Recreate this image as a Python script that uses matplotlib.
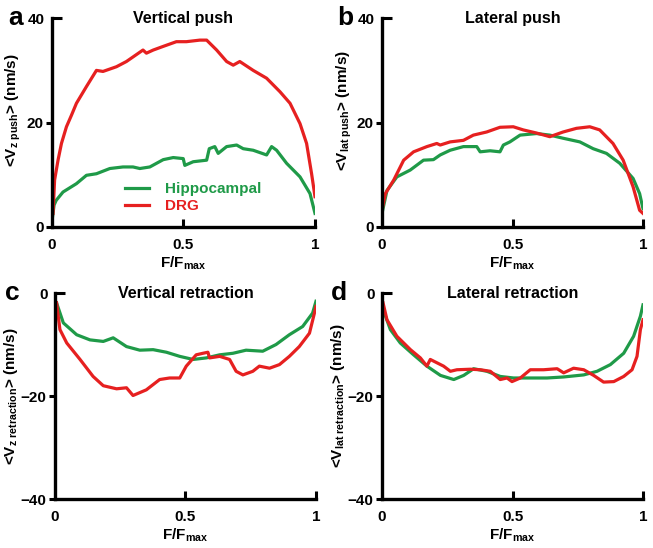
import matplotlib
matplotlib.use("Agg")
import matplotlib.pyplot as plt

plt.rcParams['font.family'] = ['Liberation Sans', 'DejaVu Sans']
plt.rcParams['font.weight'] = 'bold'
plt.rcParams['axes.labelweight'] = 'bold'
plt.rcParams['mathtext.fontset'] = 'custom'
plt.rcParams['mathtext.rm'] = 'Liberation Sans:bold'
plt.rcParams['mathtext.bf'] = 'Liberation Sans:bold'
plt.rcParams['mathtext.it'] = 'Liberation Sans:bold'
plt.rcParams['mathtext.default'] = 'bf'

GREEN = '#1f9a48'
RED = '#e62020'

# panel a - vertical push
a_hip_x = [0.002, 0.008, 0.016, 0.042, 0.093, 0.131, 0.169, 0.22, 0.27, 0.308, 0.334, 0.372, 0.423, 0.461,
           0.499, 0.505, 0.537, 0.588, 0.598, 0.619, 0.632, 0.664, 0.702, 0.727, 0.765, 0.816,
           0.835, 0.854, 0.892, 0.943, 0.981, 1.0]
a_hip_y = [1.9, 4.2, 5.1, 6.7, 8.3, 9.9, 10.2, 11.2, 11.5, 11.5, 11.2, 11.5, 12.9, 13.3,
           13.1, 11.8, 12.5, 12.8, 15.0, 15.4, 14.1, 15.4, 15.7, 15.0, 14.7, 13.8,
           15.4, 14.7, 12.2, 9.6, 6.4, 2.6]
a_drg_x = [0.004, 0.01, 0.023, 0.036, 0.055, 0.074, 0.093, 0.131, 0.169, 0.194, 0.245, 0.283, 0.346,
           0.359, 0.385, 0.423, 0.473, 0.511, 0.562, 0.588, 0.626, 0.664, 0.689, 0.714, 0.765,
           0.816, 0.867, 0.905, 0.943, 0.968, 0.987, 1.0]
a_drg_y = [2.6, 9.0, 12.8, 16.0, 19.2, 21.4, 23.7, 26.9, 30.0, 29.8, 30.7, 31.7, 33.9,
           33.3, 33.9, 34.6, 35.5, 35.5, 35.8, 35.8, 33.9, 31.7, 31.0, 31.7, 30.0,
           28.5, 25.9, 23.7, 19.8, 16.0, 10.2, 5.8]

# panel b - lateral push
b_hip_x = [0.0, 0.019, 0.057, 0.108, 0.159, 0.197, 0.223, 0.261, 0.312, 0.363, 0.376, 0.414, 0.452,
           0.465, 0.49, 0.529, 0.592, 0.643, 0.694, 0.758, 0.809, 0.86, 0.911, 0.962, 0.987, 1.0]
b_hip_y = [2.6, 7.0, 9.6, 10.9, 12.8, 12.9, 13.8, 14.7, 15.4, 15.4, 14.4, 14.6, 14.4,
           15.7, 16.3, 17.6, 17.9, 17.6, 17.0, 16.3, 15.0, 14.1, 12.2, 9.3, 6.4, 3.5]
b_drg_x = [0.0, 0.013, 0.045, 0.083, 0.121, 0.172, 0.21, 0.223, 0.261, 0.312, 0.35, 0.401, 0.452,
           0.503, 0.541, 0.592, 0.643, 0.694, 0.745, 0.796, 0.834, 0.885, 0.924, 0.962, 0.987, 1.0]
b_drg_y = [3.2, 6.4, 9.0, 12.8, 14.4, 15.4, 16.0, 15.7, 16.3, 16.6, 17.6, 18.2, 19.1,
           19.2, 18.6, 18.0, 17.3, 18.2, 18.9, 19.2, 18.6, 16.0, 12.8, 7.7, 3.2, 2.6]

# panel c - vertical retraction
c_hip_x = [0.006, 0.032, 0.083, 0.134, 0.185, 0.223, 0.274, 0.325, 0.376, 0.427, 0.478, 0.529,
           0.58, 0.631, 0.682, 0.732, 0.796, 0.847, 0.898, 0.949, 0.987, 1.0]
c_hip_y = [-1.9, -5.8, -8.1, -9.1, -9.4, -8.7, -10.4, -11.1, -11.0, -11.5, -12.3, -12.9,
           -12.6, -12.0, -11.7, -11.1, -11.3, -10.0, -8.1, -6.5, -3.9, -1.6]
c_drg_x = [0.006, 0.019, 0.045, 0.096, 0.146, 0.185, 0.236, 0.274, 0.299, 0.35, 0.401, 0.439, 0.478,
           0.503, 0.541, 0.567, 0.586, 0.592, 0.631, 0.669, 0.694, 0.72, 0.758, 0.783, 0.822,
           0.86, 0.898, 0.936, 0.975, 0.994, 1.0]
c_drg_y = [-1.9, -7.1, -9.7, -12.9, -16.2, -18.0, -18.6, -18.4, -19.9, -18.8, -16.8, -16.5, -16.5,
           -14.2, -12.0, -11.7, -11.5, -12.6, -12.3, -12.9, -15.2, -15.9, -15.2, -14.2, -14.6,
           -13.9, -12.3, -10.4, -7.8, -3.9, -2.6]

# panel d - lateral retraction
d_hip_x = [0.004, 0.032, 0.07, 0.121, 0.172, 0.224, 0.275, 0.313, 0.351, 0.402, 0.453, 0.504,
           0.568, 0.632, 0.696, 0.773, 0.824, 0.875, 0.926, 0.964, 0.99, 1.0]
d_hip_y = [-3.2, -7.1, -9.7, -12.0, -14.2, -16.0, -16.8, -16.0, -14.7, -15.2, -16.2, -16.5,
           -16.5, -16.5, -16.3, -15.9, -15.2, -13.9, -11.7, -8.4, -4.5, -2.3]
d_drg_x = [0.004, 0.019, 0.057, 0.109, 0.147, 0.172, 0.185, 0.236, 0.262, 0.287, 0.338, 0.377, 0.415,
           0.453, 0.479, 0.498, 0.53, 0.568, 0.619, 0.671, 0.696, 0.734, 0.773, 0.811, 0.849,
           0.888, 0.926, 0.958, 0.977, 0.99, 1.0]
d_drg_y = [-1.9, -5.2, -8.4, -11.0, -12.6, -14.2, -12.9, -14.2, -15.2, -14.9, -14.8, -14.9, -15.2,
           -16.8, -16.5, -17.2, -16.5, -14.9, -14.9, -14.7, -15.5, -14.6, -14.9, -16.0, -17.3,
           -17.2, -16.2, -14.9, -12.3, -7.1, -5.2]

x_ticks = [0.5, 1]
x_ticklabels = ['0.5', '1']

fig = plt.figure(figsize=(6.53, 5.48), dpi=100)

panels = [
    # letter, title, ylabel, rect, ylim, lower ticks, top tick, ylabel coords, data
    ('a', 'Vertical push', r'<V$_{z\ push}$> (nm/s)', [0.0796, 0.5858, 0.4028, 0.381],
     (0, 40), [0, 20], 40, (-0.145, 0.56), (a_hip_x, a_hip_y, a_drg_x, a_drg_y)),
    ('b', 'Lateral push', r'<V$_{lat\ push}$> (nm/s)', [0.585, 0.5858, 0.3997, 0.381],
     (0, 40), [0, 20], 40, (-0.145, 0.56), (b_hip_x, b_hip_y, b_drg_x, b_drg_y)),
    ('c', 'Vertical retraction', r'<V$_{z\ retraction}$> (nm/s)', [0.0842, 0.0894, 0.3997, 0.3759],
     (-40, 0), [-40, -20], 0, (-0.17, 0.5), (c_hip_x, c_hip_y, c_drg_x, c_drg_y)),
    ('d', 'Lateral retraction', r'<V$_{lat\ retraction}$> (nm/s)', [0.585, 0.0894, 0.3997, 0.3759],
     (-40, 0), [-40, -20], 0, (-0.17, 0.5), (d_hip_x, d_hip_y, d_drg_x, d_drg_y)),
]

for letter, title, ylabel, rect, ylim, yt, ytop, lab_xy, data in panels:
    ax = fig.add_axes(rect)
    hx, hy, dx, dy = data
    ax.plot(hx, hy, color=GREEN, lw=2.3, label='Hippocampal')
    ax.plot(dx, dy, color=RED, lw=2.3, label='DRG')
    ax.set_xlim(0, 1)
    ax.set_ylim(*ylim)
    for s in ['top', 'right']:
        ax.spines[s].set_visible(False)
    for s in ['left', 'bottom']:
        ax.spines[s].set_linewidth(2.4)
    ax.set_xticks(x_ticks)
    ax.set_xticklabels(x_ticklabels)
    ax.set_xticks([0], minor=True)
    ax.set_xticklabels(['0'], minor=True)
    ax.tick_params(axis='x', which='major', direction='in', length=6, width=2.2, labelsize=11, pad=8)
    ax.tick_params(axis='x', which='minor', direction='in', length=0, labelsize=11, pad=8)
    ax.set_yticks(yt)
    ax.set_yticks([ytop], minor=True)
    ax.set_yticklabels([str(v) for v in [ytop]], minor=True)
    ax.tick_params(axis='y', which='major', direction='out', length=4, width=2.2, labelsize=11, pad=2)
    ax.tick_params(axis='y', which='minor', direction='in', length=7, width=2.2, labelsize=11, pad=5)
    ax.set_xlabel(r'F/F$_{max}$', fontsize=11, labelpad=2)
    ax.set_ylabel(ylabel, fontsize=11, va='center')
    ax.yaxis.set_label_coords(*lab_xy)
    ax.text(0.5, 1.0, title, transform=ax.transAxes, ha='center', va='center', fontsize=11.5)
    ax.text(lab_xy[0] + 0.005, 1.0, letter, transform=ax.transAxes, ha='center', va='center', fontsize=19)
    if letter == 'a':
        ax.legend(loc='lower left', bbox_to_anchor=(0.225, 0.0), frameon=False, fontsize=11,
                  labelcolor='linecolor', handlelength=1.6, handletextpad=1.0, labelspacing=0.2)

fig.savefig('out.png', dpi=100)
